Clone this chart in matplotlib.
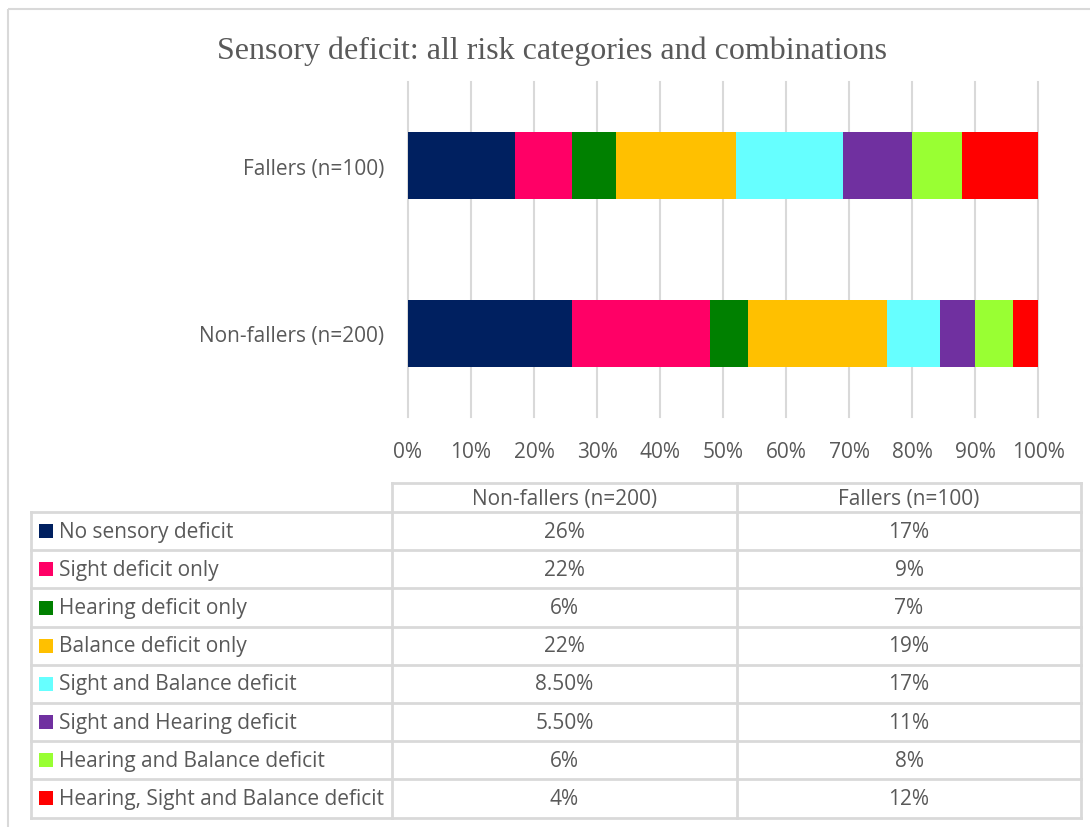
import matplotlib
matplotlib.use('Agg')
import numpy as np
import matplotlib.pyplot as plt
from matplotlib.patches import Rectangle

plt.rcParams['font.family'] = 'Open Sans'

# Data
title = 'Sensory deficit: all risk categories and combinations'
categories = ['No sensory deficit', 'Sight deficit only', 'Hearing deficit only',
              'Balance deficit only', 'Sight and Balance deficit',
              'Sight and Hearing deficit', 'Hearing and Balance deficit',
              'Hearing, Sight and Balance deficit']
colors = ['#002060', '#FF0066', '#008000', '#FFC000',
          '#66FFFF', '#7030A0', '#99FF33', '#FF0000']
groups = ['Non-fallers (n=200)', 'Fallers (n=100)']
non_fallers = [26, 22, 6, 22, 8.5, 5.5, 6, 4]
fallers = [17, 9, 7, 19, 17, 11, 8, 12]
tick_labels = ['0%', '10%', '20%', '30%', '40%', '50%',
               '60%', '70%', '80%', '90%', '100%']

W, H = 1090, 828
text_col = '#595959'
line_col = '#d9d9d9'
fs = 15


def px_box(left, top, right, bottom):
    return [left / W, 1 - bottom / H, (right - left) / W, (bottom - top) / H]


def pct(v):
    return f'{v:.0f}%' if float(v).is_integer() else f'{v:.2f}%'


fig = plt.figure(figsize=(W / 100, H / 100), dpi=100)

# stacked bars
ax = fig.add_axes(px_box(408, 83, 1038, 418))
values = np.array([non_fallers, fallers])  # rows = groups
lefts = np.zeros(len(groups))
for i, cat in enumerate(categories):
    ax.barh(range(len(groups)), values[:, i], left=lefts, height=0.4,
            color=colors[i], zorder=3)
    lefts += values[:, i]

ax.set_xlim(0, 100)
ax.set_ylim(-0.5, 1.5)
ax.set_xticks(np.arange(0, 101, 10))
ax.set_xticklabels(tick_labels)
ax.set_yticks(range(len(groups)))
ax.set_yticklabels(groups)
ax.grid(axis='x', color=line_col, linewidth=1.5)
ax.set_axisbelow(True)
for gl in ax.get_xgridlines():
    gl.set_clip_on(False)
for s in ax.spines.values():
    s.set_visible(False)
ax.tick_params(axis='both', length=0, labelsize=fs, labelcolor=text_col)
ax.tick_params(axis='x', pad=17)
ax.tick_params(axis='y', pad=17)

fig.text(552 / W, 1 - 51 / H, title, fontsize=23, family='Liberation Serif',
         color=text_col, ha='center', va='center')

# data table with legend keys
tab = fig.add_axes([0, 0, 1, 1])
tab.set_xlim(0, W)
tab.set_ylim(H, 0)
tab.axis('off')

tab.add_patch(Rectangle((8, 10), 2000, 2000, fill=False,
                        edgecolor=line_col, linewidth=1.5))

col_edges = [31, 392, 737, 1081]
header_top, body_top, row_h = 484, 513, 38.2
body_bottom = body_top + row_h * len(categories)

tab.plot([col_edges[1], col_edges[3]], [header_top, header_top], color=line_col, lw=2)
for k in range(len(categories) + 1):
    y = body_top + k * row_h
    tab.plot([col_edges[0], col_edges[3]], [y, y], color=line_col, lw=2)
tab.plot([col_edges[0], col_edges[0]], [body_top, body_bottom], color=line_col, lw=2)
for x in col_edges[1:]:
    tab.plot([x, x], [header_top, body_bottom], color=line_col, lw=2)

col_centers = [(col_edges[1] + col_edges[2]) / 2, (col_edges[2] + col_edges[3]) / 2]
for j, g in enumerate(groups):
    tab.text(col_centers[j], (header_top + body_top) / 2 + 1, g, fontsize=fs,
             color=text_col, ha='center', va='center')

for k, cat in enumerate(categories):
    yc = body_top + (k + 0.5) * row_h
    tab.add_patch(Rectangle((39, yc - 7), 14, 14, color=colors[k], linewidth=0))
    tab.text(59, yc, cat, fontsize=fs, color=text_col, ha='left', va='center')
    for j, vals in enumerate([non_fallers, fallers]):
        tab.text(col_centers[j], yc, pct(vals[k]), fontsize=fs,
                 color=text_col, ha='center', va='center')

fig.savefig('out.png', dpi=100)
